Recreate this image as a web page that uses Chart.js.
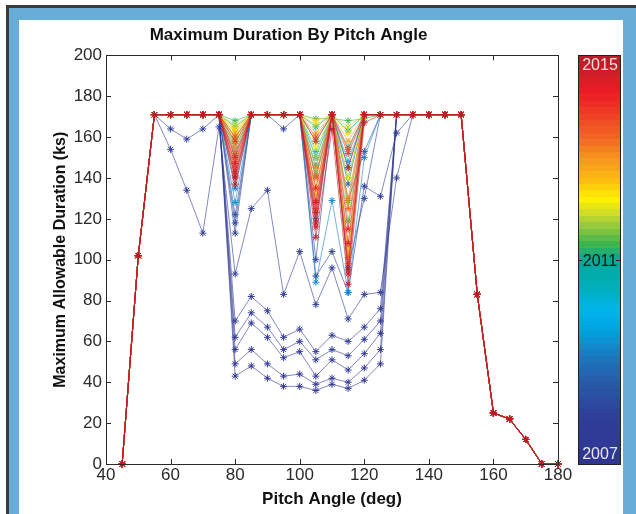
<!DOCTYPE html>
<html>
<head>
<meta charset="utf-8">
<script src="https://cdn.jsdelivr.net/npm/chart.js@4.4.1/dist/chart.umd.min.js"></script>
<style>
  html, body { margin: 0; padding: 0; background: #fff; }
  #edge { position: absolute; left: 6px; top: 5px; width: 630px; height: 509px; background: #3a3a3a; }
  #band { position: absolute; left: 9px; top: 8px; width: 627px; height: 506px; background: #68acd8; }
  #panel { position: absolute; left: 19px; top: 20px; width: 604px; height: 494px; background: #fff; }
</style>
</head>
<body>
<div id="edge"></div>
<div id="band"></div>
<div id="panel"><canvas id="durationChart" width="604" height="494"></canvas></div>
<script>
// pitch angle grid (deg)
const pitchAngles = [45, 50, 55, 60, 65, 70, 75, 80, 85, 90, 95, 100, 105, 110, 115,
                     120, 125, 130, 135, 140, 145, 150, 155, 160, 165, 170, 175, 180];

// ends of the profile that every run shares: 45-55 deg and 140-180 deg
const leadIn = [0, 102, 171];
const tailOff = [171, 171, 171, 83, 25, 22, 12, 0, 0];

// run dates (decimal year) and the middle of each profile, 60..135 deg
const runDates = [2007.00, 2007.10, 2007.20, 2007.30, 2007.40, 2007.55, 2007.75, 2008.05,
                  2008.40, 2008.85, 2009.30, 2009.70, 2010.10, 2010.45, 2010.80, 2011.05,
                  2011.30, 2011.50, 2011.70, 2011.85, 2012.00, 2012.20, 2012.40, 2012.60,
                  2012.85, 2013.05, 2013.25, 2013.45, 2013.65, 2013.85, 2014.05, 2014.25,
                  2014.45, 2014.60, 2014.75, 2014.90, 2015.00];
const runMiddles = [
  [171, 171, 171, 171, 43, 48, 42, 38, 38, 36, 39, 37, 41, 49, 171, 171],
  [171, 171, 171, 171, 49, 56, 49, 43, 44, 39, 42, 40, 47, 56, 171, 171],
  [171, 171, 171, 171, 56, 69, 62, 52, 55, 43, 51, 46, 54, 64, 171, 171],
  [171, 171, 171, 171, 62, 74, 67, 56, 60, 51, 56, 53, 61, 70, 171, 171],
  [171, 171, 171, 171, 70, 82, 75, 62, 66, 55, 63, 60, 67, 76, 171, 171],
  [154, 134, 113, 165, 93, 125, 134, 83, 104, 78, 96, 71, 83, 84, 140, 171],
  [164, 159, 164, 171, 113, 171, 171, 164, 171, 92, 104, 84, 136, 131, 162, 171],
  [171, 171, 171, 171, 118, 171, 171, 171, 171, 100, 171, 96, 130, 171, 171, 171],
  [171, 171, 171, 171, 122, 171, 171, 171, 171, 120, 171, 129, 153, 171, 171, 171],
  [171, 171, 171, 171, 135, 171, 171, 171, 171, 141, 171, 137, 171, 171, 171, 171],
  [171, 171, 171, 171, 128, 171, 171, 171, 171, 89, 129, 84, 150, 171, 171, 171],
  [171, 171, 171, 171, 151, 171, 171, 171, 171, 150, 171, 145, 171, 171, 171, 171],
  [171, 171, 171, 171, 155, 171, 171, 171, 171, 153, 171, 148, 171, 171, 171, 171],
  [171, 171, 171, 171, 160, 171, 171, 171, 171, 158, 171, 155, 171, 171, 171, 171],
  [171, 171, 171, 171, 157, 171, 171, 171, 171, 146, 171, 140, 171, 171, 171, 171],
  [171, 171, 171, 171, 165, 171, 171, 171, 171, 165, 171, 163, 171, 171, 171, 171],
  [171, 171, 171, 171, 168, 171, 171, 171, 171, 169, 169, 168, 169, 171, 171, 171],
  [171, 171, 171, 171, 153, 171, 171, 171, 171, 142, 171, 119, 171, 171, 171, 171],
  [171, 171, 171, 171, 160, 171, 171, 171, 171, 150, 171, 128, 171, 171, 171, 171],
  [171, 171, 171, 171, 166, 171, 171, 171, 171, 166, 171, 165, 171, 171, 171, 171],
  [171, 171, 171, 171, 160, 171, 171, 171, 171, 135, 171, 106, 171, 171, 171, 171],
  [171, 171, 171, 171, 163, 171, 171, 171, 171, 155, 171, 140, 171, 171, 171, 171],
  [171, 171, 171, 171, 164, 171, 171, 171, 171, 168, 171, 162, 171, 171, 171, 171],
  [171, 171, 171, 171, 157, 171, 171, 171, 171, 132, 171, 103, 171, 171, 171, 171],
  [171, 171, 171, 171, 162, 171, 171, 171, 171, 162, 171, 158, 171, 171, 171, 171],
  [171, 171, 171, 171, 155, 171, 171, 171, 171, 145, 171, 130, 171, 171, 171, 171],
  [171, 171, 171, 171, 148, 171, 171, 171, 171, 129, 171, 101, 171, 171, 171, 171],
  [171, 171, 171, 171, 152, 171, 171, 171, 171, 140, 171, 125, 171, 171, 171, 171],
  [171, 171, 171, 171, 160, 171, 171, 171, 171, 160, 171, 154, 171, 171, 171, 171],
  [171, 171, 171, 171, 145, 171, 171, 171, 171, 125, 171, 98, 171, 171, 171, 171],
  [171, 171, 171, 171, 158, 171, 171, 171, 171, 158, 171, 152, 171, 171, 171, 171],
  [171, 171, 171, 171, 150, 171, 171, 171, 171, 135, 171, 115, 171, 171, 171, 171],
  [171, 171, 171, 171, 141, 171, 171, 171, 171, 116, 171, 93, 171, 171, 171, 171],
  [171, 171, 171, 171, 147, 171, 171, 171, 171, 128, 171, 108, 171, 171, 171, 171],
  [171, 171, 171, 171, 143, 171, 171, 171, 171, 123, 171, 145, 171, 171, 171, 171],
  [171, 171, 171, 171, 140, 171, 171, 171, 171, 118, 171, 95, 171, 171, 171, 171],
  [171, 171, 171, 171, 137, 171, 171, 171, 171, 111, 164, 88, 167, 171, 171, 171]
];

// colour bar range and labels
const yearMin = 2007;
const yearMax = 2015;
const colorbarTicks = [2007, 2011, 2015];

// colour map (position 0..1, colour)
const mapStops = [
  [0.00, '#2e3590'], [0.12, '#2f3f9a'], [0.20, '#2a5aa8'], [0.26, '#1b75bc'],
  [0.33, '#00a3e0'], [0.38, '#00b4ec'], [0.45, '#00aeb0'], [0.50, '#00a79d'],
  [0.54, '#3fb54a'], [0.58, '#8dc63f'], [0.62, '#d7df23'], [0.65, '#fff200'],
  [0.70, '#fdb913'], [0.75, '#f7941d'], [0.80, '#f26522'], [0.86, '#ef3e24'],
  [0.91, '#ed1c24'], [1.00, '#b51e2a']
];

function hexToRgb(h) {
  return [parseInt(h.slice(1, 3), 16), parseInt(h.slice(3, 5), 16), parseInt(h.slice(5, 7), 16)];
}

function yearColor(year, alpha) {
  let t = (year - yearMin) / (yearMax - yearMin);
  t = Math.min(1, Math.max(0, t));
  let i = 0;
  while (i < mapStops.length - 2 && t > mapStops[i + 1][0]) i++;
  const [t0, c0] = mapStops[i];
  const [t1, c1] = mapStops[i + 1];
  const f = (t - t0) / (t1 - t0);
  const a = hexToRgb(c0), b = hexToRgb(c1);
  const rgb = a.map((v, k) => Math.round(v + (b[k] - v) * f));
  return `rgba(${rgb[0]}, ${rgb[1]}, ${rgb[2]}, ${alpha === undefined ? 1 : alpha})`;
}

// box round the axes with inward ticks on all four sides
const frameTicks = {
  id: 'frameTicks',
  afterDraw(chart) {
    const { ctx, chartArea: a, scales: { x, y } } = chart;
    ctx.save();
    ctx.strokeStyle = '#2a2a2a';
    ctx.lineWidth = 1;
    ctx.strokeRect(Math.round(a.left) + 0.5, Math.round(a.top) + 0.5,
                   Math.round(a.right - a.left), Math.round(a.bottom - a.top));
    ctx.beginPath();
    x.ticks.forEach(t => {
      const px = Math.round(x.getPixelForValue(t.value)) + 0.5;
      ctx.moveTo(px, a.bottom); ctx.lineTo(px, a.bottom - 5);
      ctx.moveTo(px, a.top); ctx.lineTo(px, a.top + 5);
    });
    y.ticks.forEach(t => {
      const py = Math.round(y.getPixelForValue(t.value)) + 0.5;
      ctx.moveTo(a.left, py); ctx.lineTo(a.left + 5, py);
      ctx.moveTo(a.right, py); ctx.lineTo(a.right - 5, py);
    });
    ctx.stroke();
    ctx.restore();
  }
};

// colour bar to the right of the axes
const colorBar = {
  id: 'colorBar',
  afterDraw(chart) {
    const { ctx, chartArea: a } = chart;
    const left = Math.round(a.right) + 20;
    const width = 42;
    const top = Math.round(a.top);
    const bottom = Math.round(a.bottom);
    const h = bottom - top;
    const bands = 64;
    ctx.save();
    for (let i = 0; i < bands; i++) {
      const y1 = bottom - (i + 1) * h / bands;
      ctx.fillStyle = yearColor(yearMin + (i + 0.5) / bands * (yearMax - yearMin));
      ctx.fillRect(left, Math.floor(y1), width, Math.ceil(h / bands) + 1);
    }
    ctx.strokeStyle = '#222';
    ctx.lineWidth = 1;
    ctx.strokeRect(left + 0.5, top + 0.5, width, h);
    ctx.font = "16px 'Liberation Sans', Arial, sans-serif";
    ctx.textAlign = 'center';
    colorbarTicks.forEach(yr => {
      const py = Math.round(bottom - (yr - yearMin) / (yearMax - yearMin) * h) + 0.5;
      ctx.beginPath();
      ctx.moveTo(left, py); ctx.lineTo(left + 4, py);
      ctx.moveTo(left + width, py); ctx.lineTo(left + width - 4, py);
      ctx.stroke();
      if (yr === yearMax) {
        ctx.fillStyle = '#f6dede';
        ctx.textBaseline = 'top';
        ctx.fillText(String(yr), left + width / 2 + 1, top + 3);
      } else if (yr === yearMin) {
        ctx.fillStyle = '#e8e8f4';
        ctx.textBaseline = 'bottom';
        ctx.fillText(String(yr), left + width / 2 + 1, bottom - 1);
      } else {
        ctx.fillStyle = '#111';
        ctx.textBaseline = 'middle';
        ctx.fillText(String(yr), left + width / 2 + 1, py + 1);
      }
    });
    ctx.restore();
  }
};

Chart.defaults.font.family = "'Liberation Sans', Arial, sans-serif";

const datasets = runDates.map((d, i) => {
  const values = leadIn.concat(runMiddles[i], tailOff);
  return {
    label: String(d),
    data: values.map((v, k) => ({ x: pitchAngles[k], y: v })),
    borderColor: yearColor(d, 0.6),
    pointBorderColor: yearColor(d, 0.95),
    pointBackgroundColor: yearColor(d, 0.95),
    borderWidth: 1,
    pointStyle: 'star',
    pointRadius: 3.5,
    pointBorderWidth: 1,
    tension: 0,
    clip: false,
    order: runDates.length - i  // newest run drawn on top
  };
});

new Chart(document.getElementById('durationChart'), {
  type: 'line',
  data: { datasets: datasets },
  options: {
    responsive: false,
    animation: false,
    layout: { padding: { left: 0, right: 65, top: 0, bottom: 0 } },
    plugins: {
      legend: { display: false },
      tooltip: { enabled: false },
      title: {
        display: true,
        text: 'Maximum Duration By Pitch Angle',
        color: '#111',
        font: { size: 17, weight: 'bold' },
        padding: { top: 5, bottom: 10 }
      }
    },
    scales: {
      x: {
        type: 'linear',
        min: 40,
        max: 180,
        ticks: { stepSize: 20, color: '#2a2a2a', font: { size: 17 }, padding: 1, maxRotation: 0 },
        grid: { display: false, drawTicks: false },
        border: { display: false },
        title: {
          display: true,
          text: 'Pitch Angle (deg)',
          color: '#111',
          font: { size: 17, weight: 'bold' },
          padding: { top: 0, bottom: 4 }
        },
        afterFit(scale) { scale.height = 50; }
      },
      y: {
        min: 0,
        max: 200,
        ticks: { stepSize: 20, color: '#2a2a2a', font: { size: 17 }, padding: 4 },
        grid: { display: false, drawTicks: false },
        border: { display: false },
        title: {
          display: true,
          text: 'Maximum Allowable Duration (ks)',
          color: '#111',
          font: { size: 16, weight: 'bold' },
          padding: { top: 32, bottom: 0 }
        },
        afterFit(scale) { scale.width = 87; }
      }
    }
  },
  plugins: [frameTicks, colorBar]
});
</script>
</body>
</html>
